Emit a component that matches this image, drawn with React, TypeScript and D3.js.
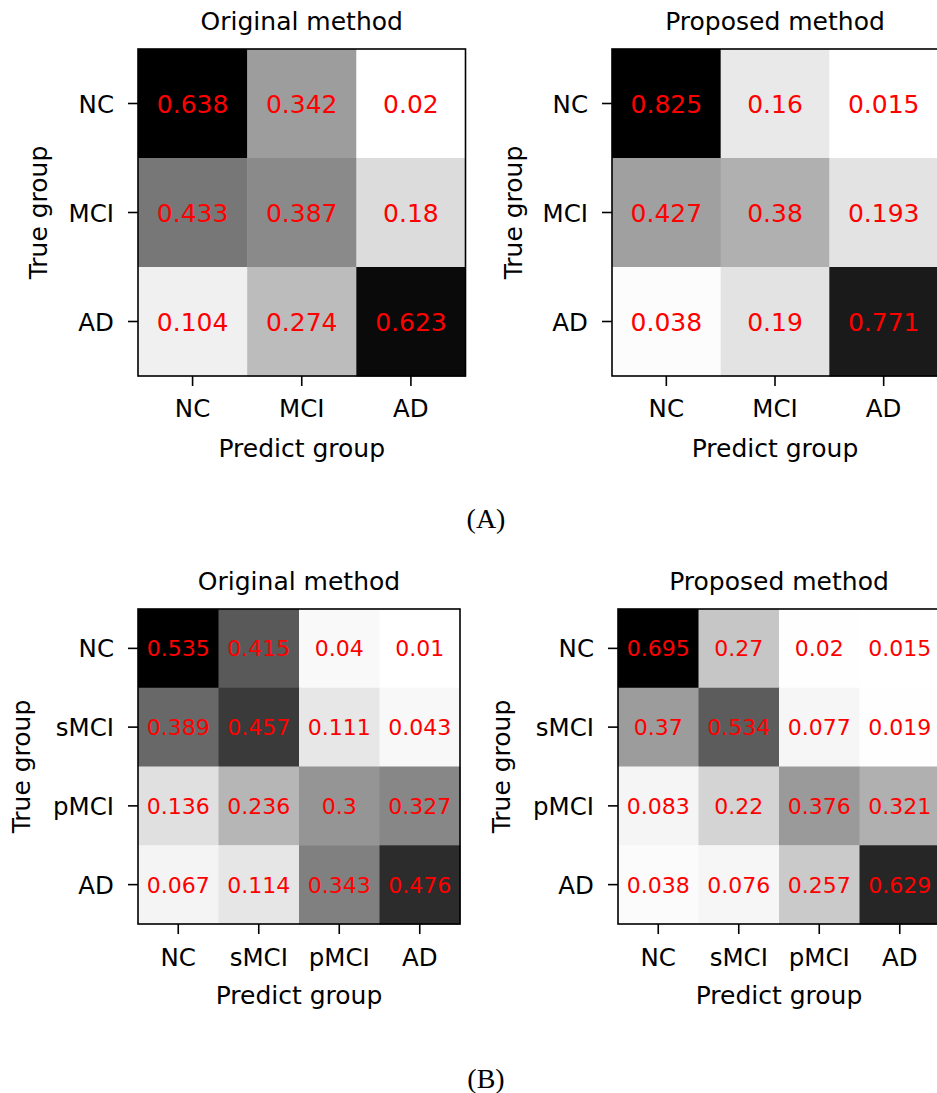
import React, { useEffect, useRef } from "react";
import * as d3 from "d3";

const groups3 = ["NC", "MCI", "AD"];
const groups4 = ["NC", "sMCI", "pMCI", "AD"];

const origA = [
  [0.638, 0.342, 0.02],
  [0.433, 0.387, 0.18],
  [0.104, 0.274, 0.623],
];
const propA = [
  [0.825, 0.16, 0.015],
  [0.427, 0.38, 0.193],
  [0.038, 0.19, 0.771],
];
const origB = [
  [0.535, 0.415, 0.04, 0.01],
  [0.389, 0.457, 0.111, 0.043],
  [0.136, 0.236, 0.3, 0.327],
  [0.067, 0.114, 0.343, 0.476],
];
const propB = [
  [0.695, 0.27, 0.02, 0.015],
  [0.37, 0.534, 0.077, 0.019],
  [0.083, 0.22, 0.376, 0.321],
  [0.038, 0.076, 0.257, 0.629],
];

// grey ramp (matplotlib Greys, a bit lighter in the midtones like the scan)
const greys = ["#ffffff", "#f2f2f2", "#dedede", "#c6c6c6", "#a2a2a2", "#828282", "#616161", "#313131", "#000000"];

const FONT = "DejaVu Sans";

type Panel = {
  title: string;
  labels: string[];
  matrix: number[][];
  x0: number; y0: number; w: number; h: number;
  titleY: number; tickY: number; xLabelY: number; yLabelX: number;
  valueSize: number;
};

const panels: Panel[] = [
  { title: "Original method", labels: groups3, matrix: origA, x0: 138, y0: 49, w: 327.5, h: 327, titleY: 30, tickY: 417, xLabelY: 457, yLabelX: 47, valueSize: 25 },
  { title: "Proposed method", labels: groups3, matrix: propA, x0: 612, y0: 49, w: 326, h: 327, titleY: 30, tickY: 417, xLabelY: 457, yLabelX: 522, valueSize: 25 },
  { title: "Original method", labels: groups4, matrix: origB, x0: 138, y0: 609, w: 322, h: 315, titleY: 590, tickY: 966, xLabelY: 1004, yLabelX: 30, valueSize: 22 },
  { title: "Proposed method", labels: groups4, matrix: propB, x0: 618, y0: 609, w: 322, h: 315, titleY: 590, tickY: 966, xLabelY: 1004, yLabelX: 510, valueSize: 22 },
];

export default function App() {
  const svgRef = useRef<SVGSVGElement>(null);

  useEffect(() => {
    const svg = d3.select(svgRef.current);
    svg.selectAll("*").remove();

    const cmap = d3
      .scaleLinear<string>()
      .domain(greys.map((_, i) => i / (greys.length - 1)))
      .range(greys)
      .interpolate(d3.interpolateRgb);

    panels.forEach((p) => {
      const x = d3.scaleBand().domain(p.labels).range([p.x0, p.x0 + p.w]);
      const y = d3.scaleBand().domain(p.labels).range([p.y0, p.y0 + p.h]);
      const norm = d3.scaleLinear().domain(d3.extent(p.matrix.flat()) as [number, number]).range([0, 1]);

      const g = svg.append("g");
      const cells = p.matrix.flatMap((row, i) =>
        row.map((v, j) => ({ r: p.labels[i], c: p.labels[j], v }))
      );

      g.selectAll("rect.cell")
        .data(cells)
        .enter()
        .append("rect")
        .attr("x", (d) => x(d.c)!)
        .attr("y", (d) => y(d.r)!)
        .attr("width", x.bandwidth() + 0.5)
        .attr("height", y.bandwidth() + 0.5)
        .attr("fill", (d) => cmap(norm(d.v)));

      g.selectAll("text.val")
        .data(cells)
        .enter()
        .append("text")
        .attr("x", (d) => x(d.c)! + x.bandwidth() / 2)
        .attr("y", (d) => y(d.r)! + y.bandwidth() / 2 + p.valueSize * 0.36)
        .attr("text-anchor", "middle")
        .attr("font-family", FONT)
        .attr("font-size", p.valueSize)
        .attr("fill", "#ff0000")
        .text((d) => String(d.v));

      // frame
      g.append("rect")
        .attr("x", p.x0)
        .attr("y", p.y0)
        .attr("width", p.w)
        .attr("height", p.h)
        .attr("fill", "none")
        .attr("stroke", "#000")
        .attr("stroke-width", 1.6);

      // y ticks
      p.labels.forEach((l) => {
        const cy = y(l)! + y.bandwidth() / 2;
        g.append("line")
          .attr("x1", p.x0 - 10).attr("x2", p.x0)
          .attr("y1", cy).attr("y2", cy)
          .attr("stroke", "#000").attr("stroke-width", 1.6);
        g.append("text")
          .attr("x", p.x0 - 24)
          .attr("y", cy + 9)
          .attr("text-anchor", "end")
          .attr("font-family", FONT)
          .attr("font-size", 24.5)
          .attr("fill", "#000")
          .text(l);
      });

      // x ticks
      p.labels.forEach((l) => {
        const cx = x(l)! + x.bandwidth() / 2;
        g.append("line")
          .attr("x1", cx).attr("x2", cx)
          .attr("y1", p.y0 + p.h).attr("y2", p.y0 + p.h + 10)
          .attr("stroke", "#000").attr("stroke-width", 1.6);
        g.append("text")
          .attr("x", cx)
          .attr("y", p.tickY)
          .attr("text-anchor", "middle")
          .attr("font-family", FONT)
          .attr("font-size", 24.5)
          .attr("fill", "#000")
          .text(l);
      });

      const cxAll = p.x0 + p.w / 2;
      g.append("text")
        .attr("x", cxAll).attr("y", p.titleY)
        .attr("text-anchor", "middle")
        .attr("font-family", FONT).attr("font-size", 25)
        .text(p.title);
      g.append("text")
        .attr("x", cxAll).attr("y", p.xLabelY)
        .attr("text-anchor", "middle")
        .attr("font-family", FONT).attr("font-size", 25)
        .text("Predict group");
      g.append("text")
        .attr("transform", `translate(${p.yLabelX},${p.y0 + p.h / 2}) rotate(-90)`)
        .attr("text-anchor", "middle")
        .attr("font-family", FONT).attr("font-size", 25)
        .text("True group");
    });

    svg.append("text")
      .attr("x", 486).attr("y", 528)
      .attr("text-anchor", "middle")
      .attr("font-family", "Liberation Serif").attr("font-size", 28)
      .text("(A)");
    svg.append("text")
      .attr("x", 486).attr("y", 1088)
      .attr("text-anchor", "middle")
      .attr("font-family", "Liberation Serif").attr("font-size", 28)
      .text("(B)");
  }, []);

  return (
    <svg
      ref={svgRef}
      width={937}
      height={1093}
      style={{ position: "absolute", left: 0, top: 0, background: "#fff" }}
    />
  );
}
